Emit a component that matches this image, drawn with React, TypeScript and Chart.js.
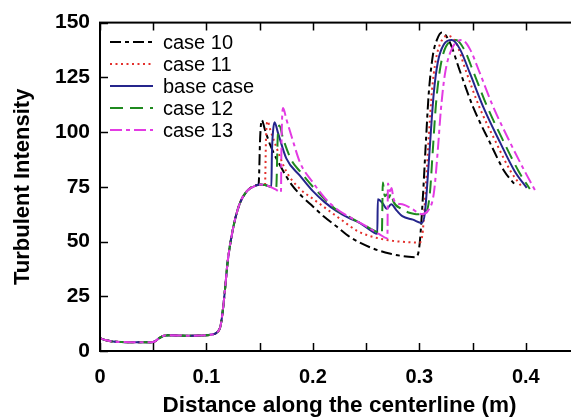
import React, { useEffect, useRef } from "react";
import { Chart, registerables } from "chart.js";

Chart.register(...registerables);

const FONT = '"Liberation Sans", Arial, Helvetica, sans-serif';

// shared upstream part (all cases coincide)
const sharedX = [0, 0.005, 0.01, 0.02, 0.03, 0.04, 0.048, 0.052, 0.056, 0.06, 0.065, 0.08, 0.1, 0.105, 0.11, 0.113, 0.115, 0.117, 0.12, 0.125, 0.131, 0.138, 0.147];
const sharedY = [5.8, 5.0, 4.5, 4.1, 4.0, 4.0, 4.0, 4.5, 6.0, 7.0, 7.2, 7.0, 7.2, 7.5, 8.5, 11, 17, 26, 41, 56, 67, 73, 75.7];

// case 10
const case10X = [0.149, 0.1505, 0.152, 0.155, 0.16, 0.17, 0.18, 0.19, 0.2, 0.21, 0.222, 0.235, 0.253, 0.272, 0.29, 0.296, 0.2986, 0.3005, 0.3033, 0.3061, 0.3089, 0.3127, 0.3164, 0.3211, 0.3286, 0.338, 0.35, 0.366, 0.38, 0.3897];
const case10Y = [76, 98, 105.5, 101, 94, 84, 76, 70.5, 66, 61.5, 57, 52, 47.5, 44.5, 43, 42.8, 44, 50, 70, 95, 118, 135, 142, 145.5, 141, 128, 112, 95.5, 82, 76];

// case 11
const case11X = [0.15, 0.155, 0.156, 0.1575, 0.16, 0.165, 0.175, 0.188, 0.2, 0.207, 0.228, 0.241, 0.253, 0.275, 0.29, 0.3, 0.3014, 0.3033, 0.3061, 0.3089, 0.3117, 0.3155, 0.3202, 0.3268, 0.3343, 0.3437, 0.3559, 0.3718, 0.3859, 0.3962];
const case11Y = [76, 75.8, 98, 105, 101, 94, 82, 74, 69.5, 67, 59.5, 55, 52.6, 50.3, 49.7, 49.5, 50, 55, 75, 98, 118, 133, 141, 144, 141, 128, 112, 95.5, 82, 75];

// base case
const baseX = [0.15, 0.155, 0.161, 0.1615, 0.1625, 0.164, 0.167, 0.175, 0.188, 0.2, 0.211, 0.222, 0.235, 0.244, 0.256, 0.2605, 0.261, 0.2655, 0.2695, 0.2735, 0.279, 0.284, 0.294, 0.3023, 0.3052, 0.308, 0.3108, 0.3136, 0.3174, 0.323, 0.3305, 0.338, 0.3474, 0.3596, 0.3756, 0.3897, 0.4009];
const baseY = [76, 75.8, 75, 90, 100, 104.5, 100, 88, 80, 73, 68, 64, 60.5, 58.5, 54.5, 53.5, 69.3, 67.5, 65, 67, 64, 61.6, 60, 58.5, 63, 80, 100, 118, 132, 140, 142, 138, 127, 112, 95.5, 82, 74.5];

// case 12
const case12X = [0.15, 0.155, 0.16, 0.1655, 0.167, 0.1685, 0.172, 0.18, 0.188, 0.2, 0.222, 0.235, 0.25, 0.262, 0.2648, 0.2657, 0.2675, 0.2695, 0.2715, 0.2735, 0.2755, 0.283, 0.2915, 0.297, 0.3023, 0.3061, 0.3099, 0.3127, 0.3155, 0.3192, 0.3249, 0.3343, 0.3418, 0.3512, 0.3634, 0.3793, 0.3934, 0.4038];
const case12Y = [76, 75.8, 75, 74, 98, 103, 97, 87, 82, 75, 64.5, 61, 57, 54, 53.5, 77, 70.7, 71.5, 70, 72, 68.4, 65, 63, 62.5, 62.5, 63, 72, 92, 112, 128, 139, 142, 138, 127, 112, 95.5, 82, 74];

// case 13
const case13X = [0.15, 0.155, 0.16, 0.165, 0.17, 0.1705, 0.172, 0.175, 0.18, 0.188, 0.2, 0.211, 0.222, 0.235, 0.25, 0.262, 0.27, 0.2705, 0.2725, 0.274, 0.2755, 0.279, 0.284, 0.293, 0.299, 0.3023, 0.308, 0.3136, 0.3174, 0.3202, 0.3239, 0.3296, 0.3399, 0.3474, 0.3568, 0.369, 0.385, 0.3991, 0.4103];
const case13Y = [76, 75.8, 75, 73.8, 72.5, 95, 111, 106, 98, 86, 77, 70, 65, 61, 57, 53.5, 51.5, 76.5, 73, 74.5, 70, 67.5, 67, 65, 63, 62.5, 64, 72, 92, 110, 126, 137, 142, 138, 127, 112, 95.5, 82, 72];

const seriesNames = ["case 10", "case 11", "base case", "case 12", "case 13"];
const seriesXs = [case10X, case11X, baseX, case12X, case13X];
const seriesYs = [case10Y, case11Y, baseY, case12Y, case13Y];
const seriesColors = ["#000000", "#e3302c", "#25258c", "#1f8a1f", "#e33be3"];
const seriesDash: number[][] = [[11, 4, 4, 4], [2, 3.5], [], [13, 7], [12, 4, 4, 4]];
const seriesOrder = [4, 3, 2, 1, 0];

const xLabelValues = [0, 0.1, 0.2, 0.3, 0.4];
const xMinorTicks = [0, 0.05, 0.1, 0.15, 0.2, 0.25, 0.3, 0.35, 0.4, 0.45];
const yTickValues = [0, 25, 50, 75, 100, 125, 150];

function buildPoints(xs: number[], ys: number[]) {
  const pts = sharedX.map((x, i) => ({ x, y: sharedY[i] }));
  xs.forEach((x, i) => pts.push({ x, y: ys[i] }));
  return pts;
}

const framePlugin = {
  id: "frameAndLegend",
  afterDatasetsDraw(chart: any) {
    const { ctx, chartArea: a, scales } = chart;
    ctx.save();
    ctx.strokeStyle = "#000";
    ctx.setLineDash([]);
    // ticks (inward)
    ctx.lineWidth = 1.5;
    ctx.beginPath();
    xMinorTicks.forEach((v) => {
      const px = Math.round(scales.x.getPixelForValue(v)) + 0.5;
      ctx.moveTo(px, a.bottom);
      ctx.lineTo(px, a.bottom - 8);
      ctx.moveTo(px, a.top);
      ctx.lineTo(px, a.top + 8);
    });
    yTickValues.forEach((v) => {
      const py = Math.round(scales.y.getPixelForValue(v)) + 0.5;
      ctx.moveTo(a.left, py);
      ctx.lineTo(a.left + 8, py);
      ctx.moveTo(a.right, py);
      ctx.lineTo(a.right - 8, py);
    });
    ctx.stroke();
    // frame
    ctx.lineWidth = 2;
    ctx.strokeRect(a.left, a.top, a.right - a.left, a.bottom - a.top);

    // legend
    const rowY = [42, 64, 86, 108, 130];
    ctx.font = `20px ${FONT}`;
    ctx.textBaseline = "middle";
    ctx.textAlign = "left";
    seriesNames.forEach((name, i) => {
      ctx.strokeStyle = seriesColors[i];
      ctx.lineWidth = 2;
      ctx.setLineDash(seriesDash[i]);
      ctx.beginPath();
      ctx.moveTo(110, rowY[i]);
      ctx.lineTo(153, rowY[i]);
      ctx.stroke();
      ctx.setLineDash([]);
      ctx.fillStyle = "#000";
      ctx.fillText(name, 163, rowY[i] + 1);
    });
    ctx.restore();
  },
};

export default function App() {
  const canvasRef = useRef<HTMLCanvasElement | null>(null);

  useEffect(() => {
    const canvas = canvasRef.current;
    if (!canvas) return;
    const datasets = seriesNames.map((name, i) => ({
      label: name,
      data: buildPoints(seriesXs[i], seriesYs[i]),
      borderColor: seriesColors[i],
      backgroundColor: seriesColors[i],
      borderDash: seriesDash[i],
      borderWidth: 2,
      pointRadius: 0,
      fill: false,
      cubicInterpolationMode: "monotone",
      order: seriesOrder[i],
    }));
    const chart = new Chart(canvas, {
      type: "line",
      data: { datasets },
      options: {
        responsive: false,
        animation: false,
        devicePixelRatio: 1,
        layout: { padding: { top: 20, right: 41, left: 0, bottom: 0 } },
        plugins: { legend: { display: false }, tooltip: { enabled: false } },
        scales: {
          x: {
            type: "linear",
            min: 0,
            max: 0.45,
            afterFit: (s: any) => {
              s.height = 69;
            },
            grid: { display: false, drawTicks: false },
            border: { display: false },
            afterBuildTicks: (s: any) => {
              s.ticks = xLabelValues.map((v) => ({ value: v }));
            },
            ticks: {
              autoSkip: false,
              maxRotation: 0,
              padding: 14,
              color: "#000",
              font: { family: FONT, size: 20, weight: "bold" },
              callback: (v: any) => (v === 0 ? "0" : String(Math.round(Number(v) * 10) / 10)),
            },
            title: {
              display: true,
              text: "Distance along the centerline (m)",
              color: "#000",
              font: { family: FONT, size: 22.5, weight: "bold" },
              padding: { top: 0, bottom: 1 },
            },
          },
          y: {
            type: "linear",
            min: 0,
            max: 150,
            afterFit: (s: any) => {
              s.width = 100;
            },
            grid: { display: false, drawTicks: false },
            border: { display: false },
            afterBuildTicks: (s: any) => {
              s.ticks = yTickValues.map((v) => ({ value: v }));
            },
            ticks: {
              padding: 10,
              color: "#000",
              font: { family: FONT, size: 21, weight: "bold" },
              callback: (v: any) => String(v),
            },
            title: {
              display: true,
              text: "Turbulent Intensity",
              color: "#000",
              font: { family: FONT, size: 22, weight: "bold" },
              padding: { top: 10, bottom: 0 },
            },
          },
        },
      },
      plugins: [framePlugin],
    } as any);
    return () => chart.destroy();
  }, []);

  return (
    <div
      style={{
        position: "fixed",
        left: 0,
        top: 0,
        width: 571,
        height: 420,
        overflow: "hidden",
        background: "#fff",
      }}
    >
      <canvas ref={canvasRef} width={620} height={420} style={{ display: "block", width: 620, height: 420 }} />
    </div>
  );
}
